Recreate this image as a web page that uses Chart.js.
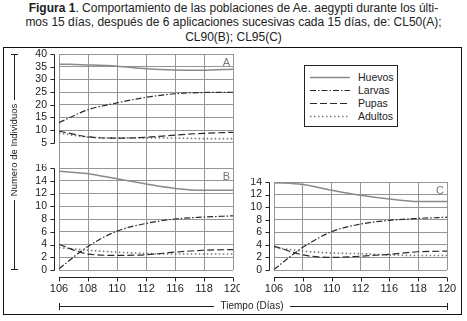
<!DOCTYPE html>
<html lang="es">
<head>
<meta charset="utf-8">
<script src="https://cdn.jsdelivr.net/npm/chart.js@4"></script>
<style>
  body { margin:0; width:467px; height:321px; background:#fff; font-family:'Liberation Sans', Arial, sans-serif; color:#222; position:relative; overflow:hidden; }
  #titulo { position:absolute; left:0; top:1px; width:467px; text-align:center; font-size:12px; line-height:14.4px; }
  #marco { position:absolute; left:3px; top:47px; width:457px; height:266px; border:1px solid #111; }
  canvas { position:absolute; }
  .lin { position:absolute; background:#222; }
  #ytit { position:absolute; left:-46px; top:144px; width:120px; text-align:center; font-size:9.5px; line-height:12px; transform:rotate(-90deg); }
  #xtit { position:absolute; left:202px; top:300px; width:100px; text-align:center; font-size:10px; line-height:12px; }
  #leyenda { position:absolute; left:304px; top:65px; width:92px; height:60px; border:1px solid #222; }
  #leyenda svg { position:absolute; left:3px; top:0; }
  #leyenda div { position:absolute; left:53px; font-size:10.5px; line-height:12px; }
</style>
</head>
<body>
<div id="titulo"><b>Figura 1</b>. Comportamiento de las poblaciones de Ae. aegypti durante los últi-<br>mos 15 días, después de 6 aplicaciones sucesivas cada 15 días, de: CL50(A);<br>CL90(B); CL95(C)</div>
<div id="marco"></div>

<canvas id="panelA" width="240" height="122" style="left:0;top:47px"></canvas>
<canvas id="panelB" width="240" height="135" style="left:0;top:164px"></canvas>
<canvas id="panelC" width="222" height="121" style="left:234px;top:178px"></canvas>

<!-- titulo eje y -->
<div class="lin" style="left:14px;top:54px;width:1px;height:46px"></div>
<div class="lin" style="left:11px;top:54px;width:7px;height:1px"></div>
<div id="ytit">Numero de Individuos</div>
<div class="lin" style="left:14px;top:200px;width:1px;height:70px"></div>
<div class="lin" style="left:11px;top:269px;width:7px;height:1px"></div>

<!-- titulo eje x -->
<div class="lin" style="left:59px;top:306px;width:155px;height:1px"></div>
<div class="lin" style="left:59px;top:303px;width:1px;height:7px"></div>
<div id="xtit">Tiempo (Días)</div>
<div class="lin" style="left:290px;top:306px;width:157px;height:1px"></div>
<div class="lin" style="left:447px;top:303px;width:1px;height:7px"></div>

<div id="leyenda">
  <svg width="48" height="60">
    <line x1="2" y1="11.5" x2="42" y2="11.5" stroke="#8a8a8a" stroke-width="1.5"/>
    <line x1="2" y1="24.5" x2="42" y2="24.5" stroke="#2a2a2a" stroke-width="1.2" stroke-dasharray="6 2 1.5 2"/>
    <line x1="2" y1="37.5" x2="42" y2="37.5" stroke="#2a2a2a" stroke-width="1.2" stroke-dasharray="7 3"/>
    <line x1="2" y1="50.5" x2="42" y2="50.5" stroke="#777" stroke-width="1.6" stroke-dasharray="1.5 2.5"/>
  </svg>
  <div style="top:5px">Huevos</div>
  <div style="top:18px">Larvas</div>
  <div style="top:31px">Pupas</div>
  <div style="top:44px">Adultos</div>
</div>

<script>
const dias = ['106', '108', '110', '112', '116', '118', '120'];

// CL50 (A)
const huevosA = [36.0, 35.7, 35.2, 34.2, 33.7, 33.6, 34.0];
const larvasA = [12.9, 18.0, 20.7, 22.9, 24.3, 24.8, 24.9];
const pupasA = [9.6, 7.3, 6.8, 7.1, 8.0, 8.7, 9.1];
const adultosA = [8.8, 7.2, 6.9, 6.9, 6.8, 6.6, 6.6];

// CL90 (B)
const huevosB = [15.5, 15.1, 14.3, 13.5, 12.8, 12.5, 12.5];
const larvasB = [0.2, 3.7, 6.1, 7.3, 8.0, 8.3, 8.5];
const pupasB = [4.0, 2.5, 2.3, 2.4, 2.8, 3.1, 3.2];
const adultosB = [3.5, 3.1, 2.8, 2.6, 2.5, 2.5, 2.5];

// CL95 (C)
const huevosC = [13.9, 13.6, 12.7, 11.9, 11.3, 10.9, 10.9];
const larvasC = [0.1, 3.6, 6.1, 7.3, 7.9, 8.2, 8.4];
const pupasC = [3.8, 2.4, 2.0, 2.2, 2.5, 2.9, 3.0];
const adultosC = [3.6, 3.0, 2.7, 2.6, 2.4, 2.3, 2.3];

const ticksA = [5, 10, 15, 20, 25, 30, 35, 40];
const ticksB = [0, 2, 4, 6, 8, 10, 12, 14, 16];
const ticksC = [0, 2, 4, 6, 8, 10, 12, 14];

const estilos = [
  { label: 'Huevos', color: '#8a8a8a', dash: [], w: 1.5 },
  { label: 'Larvas', color: '#2a2a2a', dash: [6, 2, 1.5, 2], w: 1.2 },
  { label: 'Pupas', color: '#2a2a2a', dash: [7, 3], w: 1.2 },
  { label: 'Adultos', color: '#777', dash: [1.5, 2.5], w: 1.6 }
];

// lineas de ejes separadas del area del grafico + letra del panel
const ejes = {
  id: 'ejes',
  afterDraw(chart, args, opts) {
    const ctx = chart.ctx;
    const x = chart.scales.x, y = chart.scales.y;
    const area = chart.chartArea;
    ctx.save();
    ctx.strokeStyle = '#222';
    ctx.lineWidth = 1;
    ctx.beginPath();
    const ax = Math.round(area.left - 5) + 0.5;
    const ps = y.ticks.map(t => Math.round(y.getPixelForValue(t.value)) + 0.5);
    ctx.moveTo(ax, Math.min(...ps));
    ctx.lineTo(ax, Math.max(...ps));
    ps.forEach(p => { ctx.moveTo(ax - 4, p); ctx.lineTo(ax, p); });
    if (opts.conEjeX) {
      const ay = Math.round(y.getPixelForValue(0) + 7) + 0.5;
      ctx.moveTo(x.getPixelForTick(0), ay);
      ctx.lineTo(x.getPixelForTick(dias.length - 1), ay);
      x.ticks.forEach((t, i) => {
        const p = Math.round(x.getPixelForTick(i)) + 0.5;
        ctx.moveTo(p, ay);
        ctx.lineTo(p, ay + 4);
      });
    }
    ctx.stroke();
    ctx.fillStyle = '#777';
    ctx.font = '11px "Liberation Sans", Arial, sans-serif';
    ctx.textAlign = 'right';
    ctx.textBaseline = 'top';
    ctx.fillText(opts.letra, area.right - 3, area.top + 3);
    ctx.restore();
  }
};

function crear(id, letra, series, ticks, min, max, conEjeX, anchoY, pad) {
  new Chart(document.getElementById(id), {
    type: 'line',
    data: {
      labels: dias,
      datasets: series.map((d, i) => ({
        label: estilos[i].label,
        data: d,
        borderColor: estilos[i].color,
        borderDash: estilos[i].dash,
        borderWidth: estilos[i].w,
        pointRadius: 0,
        cubicInterpolationMode: 'monotone',
        fill: false
      }))
    },
    options: {
      responsive: false,
      animation: false,
      devicePixelRatio: 1,
      layout: { padding: pad, autoPadding: false },
      plugins: {
        legend: { display: false },
        tooltip: { enabled: false },
        ejes: { letra: letra, conEjeX: conEjeX }
      },
      scales: {
        x: {
          offset: false,
          grid: { color: '#959595', drawTicks: false },
          border: { display: false },
          ticks: { display: conEjeX, padding: 12, color: '#222', maxRotation: 0, autoSkip: false,
                   font: { family: '"Liberation Sans", Arial, sans-serif', size: 11 } },
          afterFit: s => { s.height = conEjeX ? 29 : 0; s.paddingLeft = 0; s.paddingRight = 0; }
        },
        y: {
          min: min,
          max: max,
          grid: { color: '#959595', drawTicks: false },
          border: { display: false },
          afterBuildTicks: s => { s.ticks = ticks.map(v => ({ value: v })); },
          ticks: { padding: 12, color: '#222', autoSkip: false,
                   font: { family: '"Liberation Sans", Arial, sans-serif', size: 10.5 } },
          afterFit: s => { s.width = anchoY; s.paddingTop = 0; s.paddingBottom = 0; }
        }
      }
    },
    plugins: [ejes]
  });
}

crear('panelA', 'A', [huevosA, larvasA, pupasA, adultosA], ticksA, -5, 40, false, 59, { top: 7, right: 7, bottom: 1, left: 0 });
crear('panelB', 'B', [huevosB, larvasB, pupasB, adultosB], ticksB, 0, 16, true, 59, { top: 4, right: 7, bottom: 0, left: 0 });
crear('panelC', 'C', [huevosC, larvasC, pupasC, adultosC], ticksC, 0, 14, true, 40, { top: 4, right: 9, bottom: 0, left: 0 });
</script>
</body>
</html>
